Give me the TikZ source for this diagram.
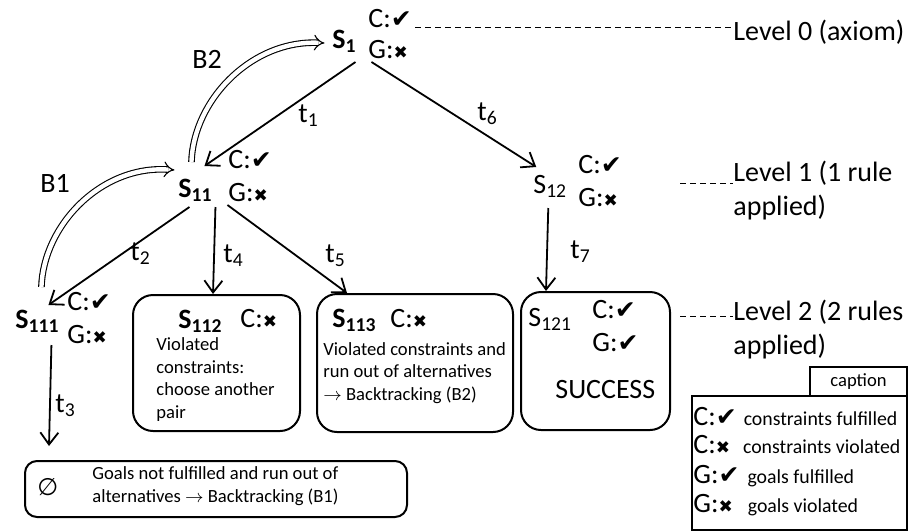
\documentclass[tikz,border=0pt]{standalone}
\usepackage{fontspec}
\setmainfont{Carlito}
\newfontfamily\symfont{DejaVu Sans}
\usetikzlibrary{arrows.meta,calc}
\newcommand{\ok}{{\symfont\fontsize{12.5}{12.5}\selectfont ✔}}
\newcommand{\ko}{{\symfont\fontsize{8.5}{8.5}\selectfont ✖}}
\newcommand{\bigtxt}{\fontsize{14}{17}\selectfont}
\newcommand{\smalltxt}{\fontsize{9.3}{11.2}\selectfont}
\newcommand{\legtxt}{\fontsize{9.9}{11.2}\selectfont}
\tikzset{
  arr/.style={-{Straight Barb[length=6pt,width=9pt]},line width=.9pt},
  back/.style={double,double distance=2.2pt,line width=.55pt,-{Implies}},
  rbox/.style={draw,line width=1pt,rounded corners=10pt},
  sbox/.style={draw,line width=.9pt},
  lvl/.style={dash pattern=on 3pt off 2pt,line width=.5pt},
  lab/.style={anchor=base west},
  note/.style={anchor=base west,align=left,font=\smalltxt},
}
\begin{document}
\begin{tikzpicture}[x=.5pt,y=-.5pt,inner sep=0pt,font=\bigtxt]
\useasboundingbox (0,0) rectangle (909,531);
% states
\node[lab] (s1) at (332,48) {\textbf{S\textsubscript{1}}};
\node[lab] (c1) at (368,27) {C:\ok};
\node[lab] (g1) at (368,58) {G:\ko};
\node[lab] (s11) at (178,197) {\textbf{S\textsubscript{11}}};
\node[lab] (c11) at (228,168) {C:\ok};
\node[lab] (g11) at (228,201) {G:\ko};
\node[lab] (s111) at (15,328) {\textbf{S\textsubscript{111}}};
\node[lab] (c111) at (67,310) {C:\ok};
\node[lab] (g111) at (67,343) {G:\ko};
\node[lab] (s12) at (533,193) {S\textsubscript{12}};
\node[lab] (c12) at (578,173) {C:\ok};
\node[lab] (g12) at (578,206) {G:\ko};
%
% boxes of level 2
\node[rbox,minimum width=83.5pt,minimum height=68pt] (b112) at (216.5,363) {};
\node[lab] (s112) at (178,328) {\textbf{S\textsubscript{112}}};
\node[lab] (c112) at (240,327) {C:\ko};
\node[note] (n112) at (156,418) {Violated\\constraints:\\choose another\\pair};
\node[rbox,minimum width=98pt,minimum height=69pt] (b113) at (415,363) {};
\node[lab] (s113) at (332,327) {\textbf{S\textsubscript{113}}};
\node[lab] (c113) at (390,327) {C:\ko};
\node[note] (n113) at (323,400) {Violated constraints and\\run out of alternatives\\$\rightarrow$ Backtracking (B2)};
\node[rbox,minimum width=74.5pt,minimum height=69pt] (b121) at (595.5,361) {};
\node[lab] (s121) at (528,326) {S\textsubscript{121}};
\node[lab] (c121) at (592,318) {C:\ok};
\node[lab] (g121) at (592,351) {G:\ok};
\node[lab] (ok121) at (555,398) {SUCCESS};
%
\node[rbox,rounded corners=6pt,minimum width=191pt,minimum height=28pt] (b0) at (216,489) {};
\node[lab] (es) at (37,495) {{\symfont\fontsize{12}{12}\selectfont ∅}};
\node[note] (n0) at (92,502) {Goals not fulfilled and run out of\\alternatives $\rightarrow$ Backtracking (B1)};
%
% transitions
\draw[arr] ($(s1.base)+(11,14)$) -- ($(s11.base)+(9,-31)$);
\draw[arr] ($(s1.base)+(27,14)$) -- ($(s12.base)+(-14,-26)$);
\draw[arr] ($(s11.base)+(-6,10)$) -- ($(s111.base)+(11,-23)$);
\draw[arr] ($(s11.base)+(20,10)$) -- ($(b112.north west)+(81,0)$);
\draw[arr] ($(s11.base)+(32,8)$) -- ($(b113.north west)+(31,0)$);
\draw[arr] ($(s12.base)+(-2,15)$) -- ($(b121.north west)+(26,0)$);
\draw[arr] ($(s111.base)+(14,17)$) -- ($(b0.north west)+(25,-14)$);
\node[lab] (t1) at (298,122) {t\textsubscript{1}};
\node[lab] (t2) at (130,260) {t\textsubscript{2}};
\node[lab] (t3) at (55,412) {t\textsubscript{3}};
\node[lab] (t4) at (223,262) {t\textsubscript{4}};
\node[lab] (t5) at (325,262) {t\textsubscript{5}};
\node[lab] (t6) at (477,120) {t\textsubscript{6}};
\node[lab] (t7) at (570,258) {t\textsubscript{7}};
%
% backtracking
\draw[back] ($(s11.base)+(-4,-35)$) .. controls +(2,-62) and +(-73,-3) .. ($(s1.base)+(-20,-5)$);
\draw[back] ($(s111.base)+(4,-41)$) .. controls +(2,-62) and +(-73,-5) .. ($(s11.base)+(-21,-27)$);
\node[lab] (bt2) at (192,68) {B2};
\node[lab] (bt1) at (40,192) {B1};
%
% levels
\node[lab] (lv0) at (733,40) {Level 0 (axiom)};
\node[lab,align=left] (lv1) at (733,215) {Level 1 (1 rule\\applied)};
\node[lab,align=left] (lv2) at (733,354) {Level 2 (2 rules\\applied)};
\coordinate (d0) at (415,27);
\coordinate (d1) at (680,183);
\coordinate (d2) at (680,316);
\draw[lvl] (d0) -- (d0 -| lv0.west);
\draw[lvl] (d1) -- (d1 -| lv1.west);
\draw[lvl] (d2) -- (d2 -| lv2.west);
%
% caption
\node[sbox,minimum width=48.5pt,minimum height=14.5pt,font=\smalltxt] (cap) at (858.5,381.5) {caption};
\node[sbox,minimum width=107.5pt,minimum height=67pt] (leg) at (799.5,463) {};
\node[lab] (l1) at (693,425) {C:\ok\hspace{3.5pt}{\legtxt constraints fulfilled}};
\node[lab] (l2) at (693,453) {C:\ko\hspace{6.5pt}{\legtxt constraints violated}};
\node[lab] (l3) at (693,483) {G:\ok\hspace{4pt}{\legtxt goals fulfilled}};
\node[lab] (l4) at (693,512) {G:\ko\hspace{7.5pt}{\legtxt goals violated}};
\end{tikzpicture}
\end{document}
